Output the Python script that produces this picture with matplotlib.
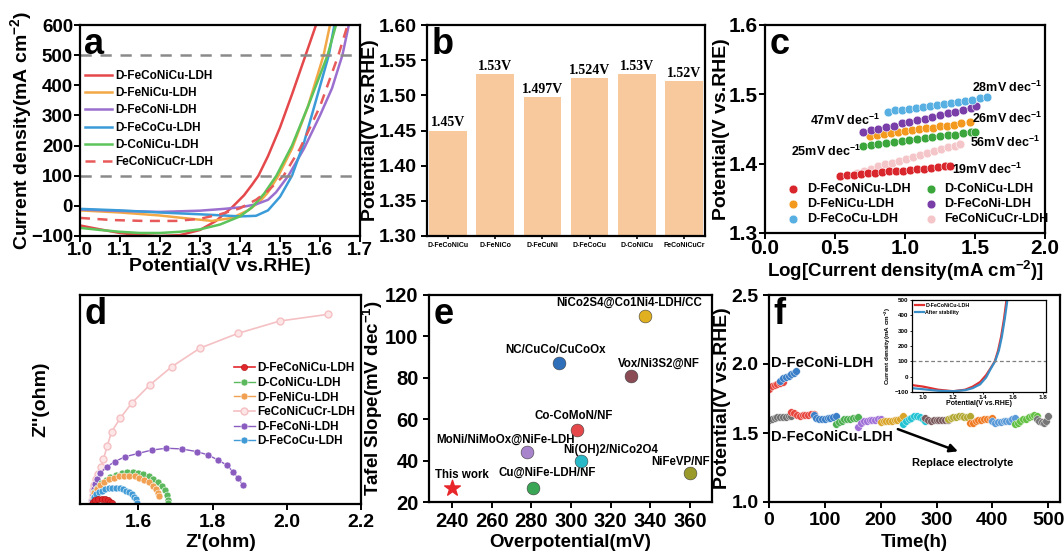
import matplotlib
matplotlib.use("Agg")
import matplotlib.pyplot as plt
import numpy as np

plt.rcParams['font.family'] = ['Liberation Sans', 'DejaVu Sans']
plt.rcParams['font.weight'] = 'bold'
plt.rcParams['axes.labelweight'] = 'bold'
plt.rcParams['axes.linewidth'] = 1.6
plt.rcParams['mathtext.fontset'] = 'custom'
plt.rcParams['mathtext.rm'] = 'Liberation Sans:bold'
plt.rcParams['mathtext.bf'] = 'Liberation Sans:bold'
plt.rcParams['mathtext.default'] = 'bf'

W, H = 1064, 559

# ---------------- data ----------------
# (a) LSV curves
a_names = ["D-FeCoNiCu-LDH", "D-FeNiCu-LDH", "D-FeCoNi-LDH", "D-FeCoCu-LDH", "D-CoNiCu-LDH", "FeCoNiCuCr-LDH"]
a_colors = ["#e5484b", "#f3a847", "#9b6fcf", "#3b9bd8", "#5cc45a", "#e85a5a"]
a_x_fcnc = [1.00, 1.05, 1.10, 1.15, 1.20, 1.25, 1.30, 1.34, 1.38, 1.41, 1.43, 1.446, 1.47, 1.50, 1.53, 1.564, 1.59]
a_y_fcnc = [-65, -78, -90, -97, -100, -97, -80, -50, -5, 35, 70, 100, 165, 260, 370, 500, 600]
a_x_fnc = [1.00, 1.10, 1.20, 1.27, 1.33, 1.38, 1.42, 1.45, 1.47, 1.496, 1.53, 1.57, 1.609, 1.625]
a_y_fnc = [-15, -22, -32, -42, -50, -40, -15, 15, 45, 100, 190, 330, 500, 600]
a_x_fcn = [1.00, 1.10, 1.20, 1.30, 1.36, 1.40, 1.44, 1.47, 1.49, 1.521, 1.56, 1.60, 1.63, 1.656, 1.672]
a_y_fcn = [-12, -17, -20, -16, -10, -5, 5, 20, 45, 100, 190, 300, 390, 500, 600]
a_x_fcc = [1.00, 1.10, 1.20, 1.30, 1.36, 1.40, 1.44, 1.47, 1.50, 1.53, 1.56, 1.59, 1.622, 1.636]
a_y_fcc = [-10, -15, -22, -28, -32, -35, -33, -15, 30, 100, 210, 350, 500, 600]
a_x_cnc = [1.00, 1.05, 1.10, 1.15, 1.20, 1.25, 1.30, 1.35, 1.40, 1.43, 1.46, 1.491, 1.53, 1.57, 1.619, 1.64]
a_y_cnc = [-73, -80, -86, -90, -90, -86, -78, -62, -35, -5, 40, 100, 200, 330, 500, 600]
a_x_cr = [1.00, 1.08, 1.16, 1.24, 1.30, 1.35, 1.40, 1.44, 1.47, 1.509, 1.55, 1.60, 1.646, 1.669]
a_y_cr = [-40, -47, -50, -50, -43, -28, -8, 20, 50, 100, 190, 330, 500, 600]

# (b) potential at 100 mA cm-2
b_names = ["D-FeCoNiCu", "D-FeNiCo", "D-FeCuNi", "D-FeCoCu", "D-CoNiCu", "FeCoNiCuCr"]
b_vals = [1.45, 1.53, 1.497, 1.524, 1.53, 1.52]
b_text = ["1.45V", "1.53V", "1.497V", "1.524V", "1.53V", "1.52V"]

# (c) Tafel
c_names = ["D-FeCoNiCu-LDH", "D-FeNiCu-LDH", "D-FeCoCu-LDH", "D-CoNiCu-LDH", "D-FeCoNi-LDH", "FeCoNiCuCr-LDH"]
c_colors = ["#d9262c", "#f39a1e", "#58b0e2", "#3aa63c", "#7a3ea8", "#f5c6c9"]
c_x_fcnc = [0.536, 0.585, 0.635, 0.685, 0.735, 0.785, 0.835, 0.885, 0.935, 0.985, 1.035, 1.085, 1.135, 1.185, 1.235, 1.285, 1.321]
c_y_fcnc = [1.382, 1.383, 1.384, 1.385, 1.386, 1.387, 1.388, 1.389, 1.389, 1.390, 1.391, 1.392, 1.393, 1.394, 1.395, 1.396, 1.397]
c_x_fnc = [0.75, 0.80, 0.85, 0.90, 0.95, 1.00, 1.05, 1.10, 1.15, 1.20, 1.25, 1.30, 1.35, 1.40, 1.465]
c_y_fnc = [1.440, 1.442, 1.443, 1.444, 1.446, 1.447, 1.448, 1.450, 1.451, 1.452, 1.454, 1.455, 1.456, 1.458, 1.460]
c_x_fcc = [0.88, 0.93, 0.98, 1.03, 1.08, 1.13, 1.18, 1.23, 1.28, 1.33, 1.38, 1.43, 1.48, 1.535, 1.585]
c_y_fcc = [1.475, 1.477, 1.478, 1.479, 1.481, 1.482, 1.483, 1.485, 1.486, 1.488, 1.489, 1.491, 1.492, 1.494, 1.496]
c_x_cnc = [0.70, 0.755, 0.81, 0.865, 0.92, 0.975, 1.03, 1.085, 1.14, 1.195, 1.25, 1.305, 1.36, 1.415, 1.47, 1.50]
c_y_cnc = [1.426, 1.427, 1.429, 1.430, 1.431, 1.433, 1.434, 1.435, 1.437, 1.438, 1.440, 1.441, 1.442, 1.444, 1.445, 1.446]
c_x_fcn = [0.70, 0.755, 0.81, 0.865, 0.92, 0.975, 1.03, 1.085, 1.14, 1.195, 1.25, 1.305, 1.36, 1.415, 1.47, 1.51]
c_y_fcn = [1.445, 1.448, 1.450, 1.453, 1.455, 1.458, 1.460, 1.463, 1.465, 1.468, 1.470, 1.473, 1.475, 1.478, 1.481, 1.483]
c_x_cr = [0.655, 0.705, 0.755, 0.805, 0.855, 0.905, 0.955, 1.005, 1.055, 1.105, 1.155, 1.205, 1.255, 1.305, 1.355, 1.395]
c_y_cr = [1.387, 1.390, 1.393, 1.396, 1.399, 1.401, 1.404, 1.407, 1.410, 1.412, 1.415, 1.418, 1.421, 1.424, 1.426, 1.429]
c_slopes = ["28mV dec$^{-1}$", "47mV dec$^{-1}$", "26mV dec$^{-1}$", "25mV dec$^{-1}$", "56mV dec$^{-1}$", "19mV dec$^{-1}$"]
c_slope_x = [1.73, 0.57, 1.73, 0.44, 1.715, 1.59]
c_slope_y = [1.510, 1.463, 1.466, 1.417, 1.430, 1.392]

# (d) Nyquist
d_names = ["D-FeCoNiCu-LDH", "D-CoNiCu-LDH", "D-FeNiCu-LDH", "FeCoNiCuCr-LDH", "D-FeCoNi-LDH", "D-FeCoCu-LDH"]
d_colors = ["#e0282c", "#5cb85c", "#f0a050", "#f5c0c3", "#8a5cc0", "#3f9ad6"]
d_x_fcnc = [1.475, 1.478, 1.484, 1.492, 1.501, 1.510, 1.518, 1.524, 1.528]
d_y_fcnc = [0.0, 0.006, 0.010, 0.013, 0.014, 0.013, 0.010, 0.006, 0.002]
d_x_cnc = [1.475, 1.477, 1.482, 1.490, 1.500, 1.512, 1.525, 1.540, 1.555, 1.570, 1.585, 1.600, 1.614, 1.628, 1.641, 1.653, 1.663, 1.671, 1.677, 1.680, 1.681]
d_y_cnc = [0.0, 0.017, 0.031, 0.044, 0.056, 0.065, 0.073, 0.079, 0.083, 0.085, 0.085, 0.083, 0.080, 0.074, 0.067, 0.058, 0.048, 0.037, 0.023, 0.012, 0.003]
d_x_fnc = [1.475, 1.477, 1.482, 1.489, 1.498, 1.509, 1.521, 1.534, 1.548, 1.562, 1.576, 1.590, 1.603, 1.616, 1.628, 1.639, 1.648, 1.654, 1.657]
d_y_fnc = [0.0, 0.016, 0.029, 0.040, 0.050, 0.059, 0.066, 0.071, 0.074, 0.076, 0.076, 0.074, 0.070, 0.065, 0.058, 0.049, 0.039, 0.029, 0.022]
d_x_cr = [1.475, 1.476, 1.477, 1.479, 1.482, 1.486, 1.492, 1.499, 1.506, 1.516, 1.528, 1.551, 1.582, 1.631, 1.690, 1.766, 1.869, 1.981, 2.111]
d_y_cr = [0.0, 0.012, 0.024, 0.037, 0.051, 0.066, 0.082, 0.100, 0.120, 0.155, 0.194, 0.230, 0.271, 0.320, 0.369, 0.419, 0.459, 0.492, 0.510]
d_x_fcn = [1.475, 1.476, 1.478, 1.481, 1.484, 1.490, 1.497, 1.515, 1.537, 1.564, 1.600, 1.636, 1.676, 1.717, 1.757, 1.788, 1.815, 1.838, 1.855, 1.869, 1.882]
d_y_fcn = [0.0, 0.012, 0.025, 0.040, 0.055, 0.068, 0.083, 0.100, 0.114, 0.127, 0.136, 0.145, 0.150, 0.148, 0.141, 0.132, 0.118, 0.105, 0.087, 0.069, 0.051]
d_x_fcc = [1.475, 1.477, 1.481, 1.487, 1.494, 1.502, 1.511, 1.520, 1.530, 1.540, 1.550, 1.559, 1.568, 1.576, 1.583, 1.589, 1.593, 1.596]
d_y_fcc = [0.0, 0.011, 0.019, 0.026, 0.031, 0.036, 0.039, 0.042, 0.043, 0.043, 0.042, 0.040, 0.036, 0.032, 0.027, 0.020, 0.013, 0.003]

# (e) comparison
e_names = ["This work", "Cu@NiFe-LDH/NF", "MoNi/NiMoOx@NiFe-LDH", "Ni(OH)2/NiCo2O4", "Co-CoMoN/NF",
           "NC/CuCo/CuCoOx", "Vox/Ni3S2@NF", "NiCo2S4@Co1Ni4-LDH/CC", "NiFeVP/NF"]
e_eta = [240, 281, 278, 305, 303, 294, 330, 337, 360]
e_tafel = [27, 27, 44, 40, 55, 87, 81, 110, 34]
e_colors = ["#e8262a", "#3aa655", "#a884cc", "#28b8c8", "#e5484b", "#2f6fba", "#8a4b55", "#e0b020", "#9a9a2a"]
e_lab_x = [231.5, 287.8, 267, 320, 301.5, 292.3, 344, 329.4, 355]
e_lab_y = [33, 34, 50, 45, 61.5, 93.5, 87, 116, 39.5]
e_lab_ha = ["left", "center", "center", "center", "center", "center", "center", "center", "center"]

# (f) stability
f_fcn_red_t = [0, 5, 10, 15, 20, 25]
f_fcn_red_v = [1.822, 1.840, 1.850, 1.858, 1.865, 1.870]
f_fcn_blue_t = [20, 25, 30, 35, 40, 44, 48]
f_fcn_blue_v = [1.880, 1.895, 1.905, 1.915, 1.925, 1.935, 1.948]
f_seg_start = [0, 40, 80, 120, 160, 200, 240, 280, 320, 360, 400, 440, 480]
f_seg_end = [40, 80, 120, 160, 200, 240, 280, 320, 360, 400, 440, 480, 500]
f_seg_colors = ["#707070", "#e8473f", "#3a7ec8", "#4caf50", "#a070d8", "#d9a427", "#22c3d3",
                "#7a5a5c", "#b3a832", "#f07a22", "#5a9ad8", "#62c042", "#777777"]
f_seg_vals = [
    [1.595, 1.605, 1.612, 1.615, 1.617, 1.618, 1.618, 1.620, 1.625],
    [1.650, 1.648, 1.632, 1.625, 1.628, 1.630, 1.632, 1.636, 1.640],
    [1.628, 1.612, 1.605, 1.603, 1.602, 1.606, 1.612, 1.618, 1.625],
    [1.565, 1.578, 1.590, 1.598, 1.600, 1.602, 1.606, 1.612, 1.617],
    [1.545, 1.570, 1.585, 1.590, 1.592, 1.594, 1.596, 1.598, 1.600],
    [1.580, 1.585, 1.588, 1.590, 1.590, 1.592, 1.596, 1.605, 1.620],
    [1.565, 1.585, 1.598, 1.610, 1.620, 1.625, 1.618, 1.600, 1.585],
    [1.610, 1.595, 1.590, 1.592, 1.593, 1.594, 1.594, 1.595, 1.596],
    [1.605, 1.610, 1.615, 1.618, 1.620, 1.620, 1.618, 1.615, 1.625],
    [1.570, 1.575, 1.585, 1.592, 1.596, 1.598, 1.600, 1.605, 1.612],
    [1.590, 1.575, 1.580, 1.582, 1.584, 1.586, 1.590, 1.600, 1.612],
    [1.565, 1.575, 1.588, 1.598, 1.605, 1.615, 1.625, 1.630, 1.620],
    [1.600, 1.590, 1.578, 1.572, 1.585, 1.620],
]
# inset
in_x_before = [0.925, 1.0, 1.1, 1.2, 1.28, 1.33, 1.38, 1.42, 1.45, 1.478, 1.50, 1.52, 1.54, 1.556, 1.57]
in_y_before = [-55, -65, -85, -95, -85, -65, -35, 10, 55, 100, 170, 260, 380, 500, 560]
in_x_after = [0.925, 1.0, 1.1, 1.2, 1.28, 1.33, 1.38, 1.42, 1.45, 1.48, 1.505, 1.525, 1.545, 1.562, 1.575]
in_y_after = [-75, -82, -92, -95, -88, -75, -50, -5, 50, 100, 170, 260, 380, 500, 560]


def box(l, t, r, b):
    return [l / W, 1 - b / H, (r - l) / W, (b - t) / H]


def letter(ax, s, x=0.015, y=0.99, size=24):
    ax.text(x, y, s, transform=ax.transAxes, fontsize=size, fontweight='bold', va='top', ha='left')


fig = plt.figure(figsize=(W / 100, H / 100), dpi=100)

# ---------------- (a) ----------------
ax = fig.add_axes(box(80, 25, 360, 236))
a_series = [(a_x_fcnc, a_y_fcnc), (a_x_fnc, a_y_fnc), (a_x_fcn, a_y_fcn),
            (a_x_fcc, a_y_fcc), (a_x_cnc, a_y_cnc), (a_x_cr, a_y_cr)]
for i, (xs, ys) in enumerate(a_series):
    ls = (0, (4, 3)) if i == 5 else '-'
    ax.plot(xs, ys, color=a_colors[i], lw=1.8, ls=ls, label=a_names[i])
for yy in [100, 500]:
    ax.axhline(yy, color='#8a8a8a', lw=1.8, ls=(0, (4.5, 3.5)))
ax.set_xlim(1.0, 1.7)
ax.set_ylim(-100, 600)
ax.set_xticks(np.arange(1.0, 1.71, 0.1))
ax.set_xticklabels(["%.1f" % v for v in np.arange(1.0, 1.71, 0.1)])
ax.set_yticks(range(-100, 601, 100))
ax.tick_params(labelsize=13.5, width=1.4, length=4, pad=1)
ax.tick_params(axis='x', pad=0)
ax.set_xlabel("Potential(V vs.RHE)", fontsize=14)
ax.set_ylabel("Current density(mA cm$^{-2}$)", fontsize=14)
ax.yaxis.set_label_coords(-0.165, 0.5)
ax.xaxis.set_label_coords(0.5, -0.105)
ax.legend(loc='upper left', bbox_to_anchor=(0.0, 0.81), frameon=False, fontsize=8.5,
          handlelength=2.3, labelspacing=0.45, handletextpad=0.3, borderaxespad=0)
letter(ax, 'a', size=26)

# ---------------- (b) ----------------
ax = fig.add_axes(box(427, 25, 705, 236))
xb = np.arange(len(b_names))
ax.bar(xb, [v - 1.3 for v in b_vals], bottom=1.3, width=0.8, color='#f8c99c')
for i in range(len(b_names)):
    ax.text(xb[i], b_vals[i] + 0.002, b_text[i], ha='center', va='bottom', fontsize=10,
            family='Liberation Serif', fontweight='bold')
ax.set_xlim(-0.45, 5.45)
ax.set_ylim(1.30, 1.60)
ax.set_yticks(np.arange(1.30, 1.601, 0.05))
ax.set_yticklabels(["%.2f" % v for v in np.arange(1.30, 1.601, 0.05)])
ax.set_xticks(xb)
ax.set_xticklabels(b_names, fontsize=5)
ax.tick_params(axis='y', labelsize=14, width=1.4, length=4)
ax.tick_params(axis='x', width=1.2, length=2, pad=2)
ax.set_ylabel("Potential(V vs.RHE)", fontsize=14)
ax.yaxis.set_label_coords(-0.172, 0.5)
letter(ax, 'b', size=26)

# ---------------- (c) ----------------
ax = fig.add_axes(box(765, 25, 1045, 233))
c_series = [(c_x_cr, c_y_cr, 5), (c_x_fcnc, c_y_fcnc, 0), (c_x_cnc, c_y_cnc, 3),
            (c_x_fnc, c_y_fnc, 1), (c_x_fcn, c_y_fcn, 4), (c_x_fcc, c_y_fcc, 2)]
handles = {}
for xs, ys, k in c_series:
    h = ax.scatter(xs, ys, s=40, color=c_colors[k], edgecolors='white', linewidths=0.4, zorder=3)
    handles[k] = h
for i in range(len(c_slopes)):
    ax.text(c_slope_x[i], c_slope_y[i], c_slopes[i], ha='center', va='center', fontsize=9)
ax.legend([handles[k] for k in range(6)], c_names, ncol=2, loc='lower left',
          bbox_to_anchor=(0.03, 0.0), frameon=False, fontsize=9, scatterpoints=1,
          handletextpad=0.1, columnspacing=0.6, labelspacing=0.25, borderaxespad=0.2)
ax.set_xlim(0, 2.0)
ax.set_ylim(1.3, 1.6)
ax.set_xticks([0.0, 0.5, 1.0, 1.5, 2.0])
ax.set_xticklabels(["0.0", "0.5", "1.0", "1.5", "2.0"])
ax.set_yticks([1.3, 1.4, 1.5, 1.6])
ax.set_yticklabels(["1.3", "1.4", "1.5", "1.6"])
ax.tick_params(labelsize=15, width=1.4, length=4, pad=1)
ax.tick_params(axis='x', pad=0)
ax.set_xlabel("Log[Current density(mA cm$^{-2}$)]", fontsize=13.5)
ax.set_ylabel("Potential(V vs.RHE)", fontsize=14)
ax.yaxis.set_label_coords(-0.125, 0.5)
ax.xaxis.set_label_coords(0.5, -0.125)
letter(ax, 'c', size=26)

# ---------------- (d) ----------------
ax = fig.add_axes(box(80, 295, 361, 504))
d_series = [(d_x_fcnc, d_y_fcnc), (d_x_cnc, d_y_cnc), (d_x_fnc, d_y_fnc),
            (d_x_cr, d_y_cr), (d_x_fcn, d_y_fcn), (d_x_fcc, d_y_fcc)]
d_order = [3, 4, 1, 2, 5, 0]
for k in d_order:
    xs, ys = d_series[k]
    col = d_colors[k]
    if k == 3:
        ax.plot(xs, ys, color=col, lw=1.2, marker='o', ms=5, mfc='#fde6e7', mec=col, mew=1.0, label=d_names[k])
    elif k == 0:
        ax.plot(xs, ys, color=col, lw=1.2, marker='o', ms=4.5, mfc=col, mec='#b01010', mew=0.4, label=d_names[k])
    else:
        ax.plot(xs, ys, color=col, lw=1.0, marker='o', ms=5, mfc=col, mec='white', mew=0.4, label=d_names[k])
hs, ls_ = ax.get_legend_handles_labels()
lab_map = dict(zip(ls_, hs))
ax.legend([lab_map[n] for n in d_names], d_names, loc='upper left', bbox_to_anchor=(0.53, 0.70),
          frameon=False, fontsize=8.5, handlelength=1.8, labelspacing=0.22, handletextpad=0.2,
          borderaxespad=0)
ax.set_xlim(1.443, 2.2)
ax.set_ylim(0, 0.562)
ax.set_xticks([1.6, 1.8, 2.0, 2.2])
ax.set_xticklabels(["1.6", "1.8", "2.0", "2.2"])
ax.set_yticks([])
ax.tick_params(labelsize=14, width=1.4, length=4)
ax.set_xlabel("Z'(ohm)", fontsize=14)
ax.set_ylabel("Z''(ohm)", fontsize=14)
ax.yaxis.set_label_coords(-0.11, 0.5)
ax.xaxis.set_label_coords(0.5, -0.145)
letter(ax, 'd', size=26)

# ---------------- (e) ----------------
ax = fig.add_axes(box(429, 295, 712, 502))
for i in range(len(e_names)):
    if i == 0:
        ax.scatter(e_eta[i], e_tafel[i], marker='*', s=140, color=e_colors[i], zorder=3)
    else:
        ax.scatter(e_eta[i], e_tafel[i], s=85, color=e_colors[i], edgecolors='#404040',
                   linewidths=0.4, zorder=3)
    ax.text(e_lab_x[i], e_lab_y[i], e_names[i], ha=e_lab_ha[i], va='center', fontsize=8.3)
ax.set_xlim(228.4, 371)
ax.set_ylim(20, 120)
ax.set_xticks(range(240, 361, 20))
ax.set_yticks(range(20, 121, 20))
ax.tick_params(labelsize=14.5, width=1.4, length=4)
ax.set_xlabel("Overpotential(mV)", fontsize=13.5)
ax.set_ylabel("Tafel Slope(mV dec$^{-1}$)", fontsize=13.5)
ax.yaxis.set_label_coords(-0.155, 0.5)
ax.xaxis.set_label_coords(0.5, -0.155)
letter(ax, 'e', size=26)

# ---------------- (f) ----------------
ax = fig.add_axes(box(769, 295, 1060, 502))
ax.plot(f_fcn_red_t, f_fcn_red_v, color='#e8473f', marker='o', ms=5.5, mec='white', mew=0.3, lw=1)
ax.plot(f_fcn_blue_t, f_fcn_blue_v, color='#3a7ec8', marker='o', ms=5.5, mec='white', mew=0.3, lw=1)
for i in range(len(f_seg_vals)):
    ts = np.linspace(f_seg_start[i], f_seg_end[i], len(f_seg_vals[i]))
    ax.plot(ts, f_seg_vals[i], color=f_seg_colors[i], marker='o', ms=5.5, mec='white', mew=0.3, lw=1)
ax.text(4, 2.01, "D-FeCoNi-LDH", fontsize=10.5, va='center', ha='left')
ax.text(4, 1.47, "D-FeCoNiCu-LDH", fontsize=10.5, va='center', ha='left')
ax.text(347, 1.28, "Replace electrolyte", fontsize=8, va='center', ha='center')
ax.annotate("", xy=(343, 1.36), xytext=(226, 1.535),
            arrowprops=dict(arrowstyle='-|>', color='black', lw=1.8, mutation_scale=12))
ax.set_xlim(0, 521)
ax.set_ylim(1.0, 2.5)
ax.set_xticks(range(0, 501, 100))
ax.set_yticks([1.0, 1.5, 2.0, 2.5])
ax.set_yticklabels(["1.0", "1.5", "2.0", "2.5"])
ax.tick_params(labelsize=14, width=1.4, length=4)
ax.set_xlabel("Time(h)", fontsize=13.5)
ax.set_ylabel("Potential(V vs.RHE)", fontsize=14)
ax.yaxis.set_label_coords(-0.13, 0.5)
ax.xaxis.set_label_coords(0.5, -0.155)
letter(ax, 'f', size=26)

# inset
axi = fig.add_axes(box(912, 300, 1046, 392))
axi.plot(in_x_before, in_y_before, color='#e03030', lw=1.6, label='D-FeCoNiCu-LDH')
axi.plot(in_x_after, in_y_after, color='#3a8ec8', lw=1.6, label='After stability')
axi.axhline(100, color='#808080', lw=0.9, ls=(0, (3, 2)))
axi.set_xlim(0.925, 1.82)
axi.set_ylim(-100, 500)
axi.set_xticks([1.0, 1.2, 1.4, 1.6, 1.8])
axi.set_xticklabels(["1.0", "1.2", "1.4", "1.6", "1.8"])
axi.set_yticks(range(-100, 501, 100))
for s in axi.spines.values():
    s.set_linewidth(0.9)
axi.tick_params(labelsize=4.5, width=0.6, length=1.5, pad=1)
axi.set_xlabel("Potential(V vs.RHE)", fontsize=5, labelpad=0)
axi.set_ylabel("Current density(mA cm$^{-2}$)", fontsize=4.5, labelpad=1)
axi.legend(loc='upper left', frameon=False, fontsize=3.8, handlelength=1.6,
           labelspacing=0.3, handletextpad=0.3, borderaxespad=0.2)

fig.savefig("out.png", dpi=100)
